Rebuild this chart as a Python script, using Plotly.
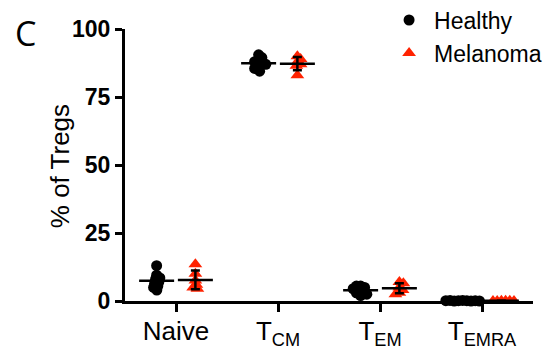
import numpy as np
import plotly.graph_objects as go

categories = ["Naive", "T<sub>CM</sub>", "T<sub>EM</sub>", "T<sub>EMRA</sub>"]
healthy = [
    [13.0, 9.5, 8.5, 8.0, 7.0, 6.5, 5.5, 5.0, 4.0],
    [90.5, 89.5, 88.5, 88.0, 87.5, 87.0, 86.0, 85.5, 84.5],
    [5.5, 5.5, 5.0, 4.5, 4.0, 3.5, 3.0, 2.5, 2.0],
    [0.2, 0.1, 0.1, 0.0, 0.0, 0.1, 0.2, 0.1, 0.0],
]
melanoma = [
    [13.5, 10.0, 7.5, 6.0, 5.0, 4.5],
    [90.0, 89.0, 88.0, 87.0, 86.5, 83.0],
    [7.0, 6.5, 5.0, 4.0, 3.0, 2.5],
    [0.1, 0.0, 0.1, 0.0, 0.1, 0.0],
]
tick_vals_y = [0, 25, 50, 75, 100]

BLACK = "#000000"
RED = "#FF2200"
PX_X = 408 / 4.0      # pixels per x unit
PX_Y = 272 / 100.0    # pixels per y unit
DIAM = 4.2            # minimum centre spacing in pixels (points overlap, as in the reference)


def swarm(values):
    """Deterministic beeswarm offsets (x units)."""
    placed = []
    offs = []
    for v in values:
        yp = v * PX_Y
        cands = sorted({0.0} | {p[0] + s * np.sqrt(max(DIAM**2 - (yp - p[1])**2, 0)) + s * 0.01
                                for p in placed for s in (-1, 1)}, key=abs)
        for c in cands:
            if all((c - p[0])**2 + (yp - p[1])**2 >= DIAM**2 - 1e-6 for p in placed):
                break
        placed.append((c, yp))
        offs.append(c / PX_X)
    return offs


def group_xy(groups, shift):
    xs, ys = [], []
    for i, vals in enumerate(groups):
        off = swarm(vals)
        xs += [i + shift + o for o in off]
        ys += vals
    return xs, ys


fig = go.Figure()
for name, groups, shift, sym, col in [("Healthy", healthy, -0.19, "circle", BLACK),
                                      ("Melanoma", melanoma, 0.19, "triangle-up", RED)]:
    xs, ys = group_xy(groups, shift)
    fig.add_trace(go.Scatter(x=xs, y=ys, mode="markers", name=name, cliponaxis=False,
                             marker=dict(symbol=sym, size=11 if sym == "circle" else 12, color=col,
                                         line=dict(width=0))))
for groups, shift in [(healthy, -0.19), (melanoma, 0.19)]:
    means = [float(np.mean(g)) for g in groups]
    sds = [float(np.std(g, ddof=1)) for g in groups]
    fig.add_trace(go.Scatter(x=[i + shift for i in range(4)], y=means, mode="markers",
                             showlegend=False, cliponaxis=False, hoverinfo="skip",
                             marker=dict(symbol="line-ew-open", size=25, color=BLACK,
                                         line=dict(width=2.5, color=BLACK)),
                             error_y=dict(type="data", array=sds, color=BLACK, thickness=2.5, width=4.5)))

fig.update_layout(
    width=547, height=343,
    margin=dict(l=117, r=22, t=21, b=50, autoexpand=False),
    paper_bgcolor="white", plot_bgcolor="white",
    font=dict(family="Liberation Sans, Arial", color=BLACK),
    legend=dict(x=0.635, y=1.112, xanchor="left", yanchor="top", font=dict(size=23),
                bgcolor="rgba(0,0,0,0)", itemwidth=40, tracegroupgap=0),
    xaxis=dict(range=[-0.5, 3.5], tickmode="array", tickvals=list(range(4)), ticktext=categories,
               showline=True, linecolor=BLACK, linewidth=3, ticks="outside", ticklen=8, tickwidth=3,
               tickcolor=BLACK, showgrid=False, zeroline=False, tickfont=dict(size=26),
               ticklabelstandoff=-3),
    yaxis=dict(range=[0, 100], tickmode="array", tickvals=tick_vals_y,
               showline=True, linecolor=BLACK, linewidth=3, ticks="outside", ticklen=7, tickwidth=3,
               tickcolor=BLACK, showgrid=False, zeroline=False,
               tickfont=dict(size=23, weight="bold")),
    annotations=[
        dict(text="C", x=-0.245, y=0.985, xref="paper", yref="paper", showarrow=False,
             xanchor="center", yanchor="middle", font=dict(size=34, family="Open Sans")),
        dict(text="% of Tregs", x=-0.159, y=0.496, xref="paper", yref="paper", showarrow=False,
             xanchor="center", yanchor="middle", textangle=-90, font=dict(size=26)),
    ],
)
fig.write_html("out.html")
